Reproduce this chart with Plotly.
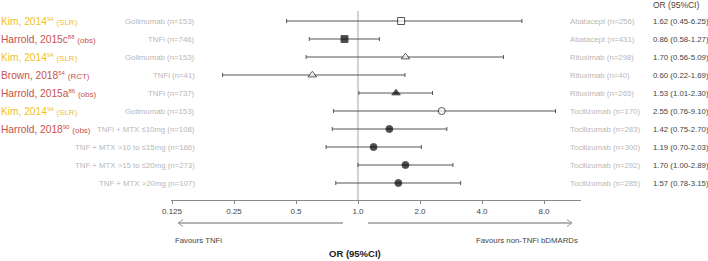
import math
import plotly.graph_objects as go

# ---------------- data ----------------
studies = ["Kim, 2014", "Harrold, 2015c", "Kim, 2014", "Brown, 2018", "Harrold, 2015a",
           "Kim, 2014", "Harrold, 2018", "", "", ""]
refs = ["94", "88", "94", "54", "86", "94", "90", "", "", ""]
designs = ["SLR", "obs", "SLR", "RCT", "obs", "SLR", "obs", "", "", ""]
tnfi_labels = ["Golimumab (n=153)", "TNFi (n=746)", "Golimumab (n=153)", "TNFi (n=41)",
               "TNFi (n=737)", "Golimumab (n=153)", "TNFi + MTX ≤10mg (n=108)",
               "TNF + MTX >10 to ≤15mg (n=186)", "TNF + MTX >15 to ≤20mg (n=273)",
               "TNF + MTX >20mg (n=107)"]
comparators = ["Abatacept (n=256)", "Abatacept (n=431)", "Rituximab (n=298)", "Rituximab (n=40)",
               "Rituximab (n=265)", "Tocilizumab (n=170)", "Tocilizumab (n=283)",
               "Tocilizumab (n=300)", "Tocilizumab (n=292)", "Tocilizumab (n=285)"]
or_vals = [1.62, 0.86, 1.70, 0.60, 1.53, 2.55, 1.42, 1.19, 1.70, 1.57]
ci_low = [0.45, 0.58, 0.56, 0.22, 1.01, 0.76, 0.75, 0.70, 1.00, 0.78]
ci_high = [6.25, 1.27, 5.09, 1.69, 2.30, 9.10, 2.70, 2.03, 2.89, 3.15]
symbols = ["square", "square", "triangle-up", "triangle-up", "triangle-up",
           "circle", "circle", "circle", "circle", "circle"]
filled = [False, True, False, False, True, False, True, True, True, True]
tick_vals = [0.125, 0.25, 0.5, 1, 2, 4, 8]
tick_text = ["0.125", "0.25", "0.5", "1.0", "2.0", "4.0", "8.0"]

# ---------------- styles ----------------
W, H = 708, 261
L, R, T, B = 171, 581, 0, 200  # plot area in pixels
FONT = "Liberation Sans, Arial, sans-serif"
YELLOW = "#f2bf1f"
RED = "#c8514b"
LIGHT = "#b8b8b8"
DARK = "#444444"
SMALL = 7.8

rows = list(range(len(or_vals)))


def px(xp):
    return (xp - L) / (R - L)


def py(yp):
    return (B - yp) / (B - T)


fig = go.Figure()
fig.add_trace(go.Scatter(
    x=or_vals, y=rows, mode="markers",
    marker=dict(symbol=symbols, size=[7, 7, 7.5, 7.5, 7.5, 7, 7, 7, 7, 7],
                color=["#000000" if f else "white" for f in filled],
                line=dict(color="#111111", width=1)),
    error_x=dict(type="data", symmetric=False,
                 array=[h - o for h, o in zip(ci_high, or_vals)],
                 arrayminus=[o - l for o, l in zip(or_vals, ci_low)],
                 color="#555555", thickness=1, width=2),
    showlegend=False, hoverinfo="skip",
))

annotations = []
for i in rows:
    if studies[i]:
        col = YELLOW if designs[i] == "SLR" else RED
        txt = (f"{studies[i]}<sup><span style='font-size:6px'>{refs[i]}</span></sup> "
               f"<span style='font-size:8px'>({designs[i]})</span>")
        annotations.append(dict(x=px(-1), y=i, xref="paper", yref="y", text=txt,
                                xanchor="left", yanchor="middle", showarrow=False,
                                font=dict(family=FONT, size=10.2, color=col)))
    annotations.append(dict(x=px(197), y=i, xref="paper", yref="y", text=tnfi_labels[i],
                            xanchor="right", yanchor="middle", showarrow=False,
                            font=dict(family=FONT, size=SMALL, color=LIGHT)))
    annotations.append(dict(x=px(568), y=i, xref="paper", yref="y", text=comparators[i],
                            xanchor="left", yanchor="middle", showarrow=False,
                            font=dict(family=FONT, size=SMALL, color=LIGHT)))
    annotations.append(dict(x=px(651), y=i, xref="paper", yref="y",
                            text=f"{or_vals[i]:.2f} ({ci_low[i]:.2f}-{ci_high[i]:.2f})",
                            xanchor="left", yanchor="middle", showarrow=False,
                            font=dict(family=FONT, size=SMALL, color=DARK)))

annotations += [
    dict(x=px(651), y=py(5), xref="paper", yref="paper", text="OR (95%CI)",
         xanchor="left", yanchor="middle", showarrow=False,
         font=dict(family=FONT, size=8.5, color=DARK)),
    dict(x=px(173), y=py(240), xref="paper", yref="paper", text="Favours TNFi",
         xanchor="left", yanchor="middle", showarrow=False,
         font=dict(family=FONT, size=SMALL, color=DARK)),
    dict(x=px(580), y=py(240), xref="paper", yref="paper", text="Favours non-TNFi bDMARDs",
         xanchor="right", yanchor="middle", showarrow=False,
         font=dict(family=FONT, size=SMALL, color=DARK)),
    dict(x=px(355), y=py(253), xref="paper", yref="paper", text="<b>OR (95%CI)</b>",
         xanchor="center", yanchor="middle", showarrow=False,
         font=dict(family=FONT, size=9.5, color="#222222")),
]


def path(points):
    return "M " + " L ".join(f"{px(a):.5f},{py(b):.5f}" for a, b in points)


ARROW = "#9a9a9a"
shapes = [
    dict(type="line", xref="x", yref="paper", x0=1, x1=1, y0=py(11), y1=py(200),
         line=dict(color="#c4c4c4", width=1.5), layer="below"),
    dict(type="path", xref="paper", yref="paper",
         path=path([(343, 223), (178, 223)]), line=dict(color=ARROW, width=1.5)),
    dict(type="path", xref="paper", yref="paper",
         path=path([(183, 219.5), (178, 223), (183, 226.5)]), line=dict(color=ARROW, width=1)),
    dict(type="path", xref="paper", yref="paper",
         path=path([(368, 223), (572, 223)]), line=dict(color=ARROW, width=1.5)),
    dict(type="path", xref="paper", yref="paper",
         path=path([(567, 219.5), (572, 223), (567, 226.5)]), line=dict(color=ARROW, width=1)),
]

dec_per_px = (math.log10(8) - math.log10(0.125)) / (544 - 172)
x0 = math.log10(0.125) - (172 - L) * dec_per_px
x1 = x0 + (R - L) * dec_per_px

fig.update_layout(
    width=W, height=H,
    margin=dict(l=L, r=W - R, t=T, b=H - B),
    plot_bgcolor="white", paper_bgcolor="white",
    font=dict(family=FONT, size=8, color=DARK),
    xaxis=dict(type="log", range=[x0, x1], tickvals=tick_vals, ticktext=tick_text,
               showgrid=False, zeroline=False, showline=True, linecolor="#8a8a8a",
               linewidth=1, ticks="outside", ticklen=3, tickcolor="#8a8a8a",
               tickfont=dict(family=FONT, size=8, color=DARK), fixedrange=True),
    yaxis=dict(range=[(B - 21) / 18, -21 / 18], visible=False, fixedrange=True),
    annotations=annotations,
    shapes=shapes,
)

fig.write_html("out.html", config={"displayModeBar": False},
               post_script="document.body.style.margin='0';document.body.style.padding='0';")
